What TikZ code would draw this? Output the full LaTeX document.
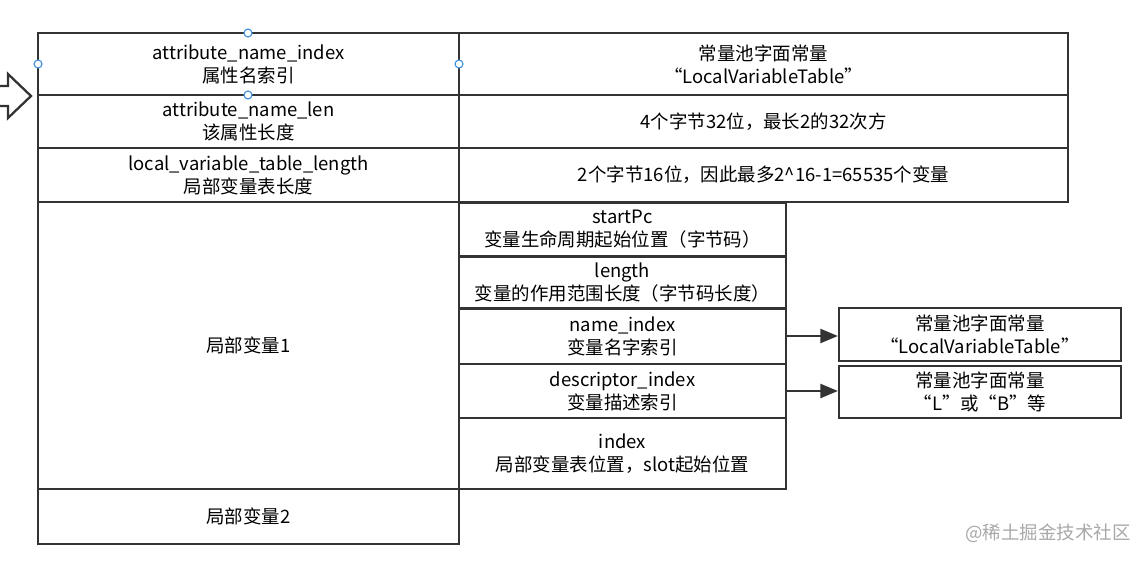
\documentclass[tikz,border=0pt]{standalone}
\usepackage{fontspec}
\setmainfont{Noto Sans CJK SC}
\usetikzlibrary{arrows.meta}
\definecolor{linegray}{HTML}{333333}
\definecolor{handleblue}{HTML}{3B8CE0}
\definecolor{markgray}{HTML}{A8A8A8}

\begin{document}
\begin{tikzpicture}[x=0.02cm,y=-0.02cm,
		cell/.style={draw=linegray,line width=1.3pt,align=center,inner sep=0pt,
			font=\fontsize{10.5}{13}\selectfont},
		handle/.style={draw=handleblue,fill=white,line width=0.6pt}]
				\useasboundingbox (0,0) rectangle (1147,561);
				% left column
				\node[cell,minimum width=8.42cm,minimum height=1.24cm] (nameidx) at (248.5,64) {attribute\_name\_index\\属性名索引};
				\node[cell,minimum width=8.42cm,minimum height=1.06cm] (namelen) at (248.5,121.5) {attribute\_name\_len\\该属性长度};
				\node[cell,minimum width=8.42cm,minimum height=1.08cm] (tablelen) at (248.5,175) {local\_variable\_table\_length\\局部变量表长度};
				\node[cell,minimum width=8.42cm,minimum height=5.74cm] (var1) at (248.5,345.5) {局部变量1};
				\node[cell,minimum width=8.42cm,minimum height=1.10cm] (var2) at (248.5,516.5) {局部变量2};
				% right column
				\node[cell,minimum width=12.18cm,minimum height=1.24cm] (pool) at (763.5,64) {常量池字面常量\\“LocalVariableTable”};
				\node[cell,minimum width=12.18cm,minimum height=1.06cm] (lenbits) at (763.5,121.5) {4个字节32位，最长2的32次方};
				\node[cell,minimum width=12.18cm,minimum height=1.08cm] (countbits) at (763.5,175) {2个字节16位，因此最多2\^{}16-1=65535个变量};
				% fields of one variable
				\node[cell,minimum width=6.54cm,minimum height=1.08cm] (startpc) at (622.5,229.5) {startPc\\变量生命周期起始位置（字节码）};
				\node[cell,minimum width=6.54cm,minimum height=1.06cm] (length) at (622.5,282.5) {length\\变量的作用范围长度（字节码长度）};
				\node[cell,minimum width=6.54cm,minimum height=1.12cm] (varname) at (622.5,336) {name\_index\\变量名字索引};
				\node[cell,minimum width=6.54cm,minimum height=1.08cm] (descidx) at (622.5,391) {descriptor\_index\\变量描述索引};
				\node[cell,minimum width=6.54cm,minimum height=1.42cm] (slot) at (622.5,453.5) {index\\局部变量表位置，slot起始位置};
				% constant pool entries
				\node[cell,minimum width=5.64cm,minimum height=1.06cm] (poolname) at (980,334.5) {常量池字面常量\\“LocalVariableTable”};
				\node[cell,minimum width=5.64cm,minimum height=1.04cm] (pooldesc) at (980,392) {常量池字面常量\\“L”或“B”等};
				\draw[linegray,line width=1.3pt,-{Triangle[length=10pt,width=8pt]}] (varname.east) -- (varname.east -| poolname.west);
				\draw[linegray,line width=1.3pt,-{Triangle[length=10pt,width=8pt]}] (descidx.east) -- (descidx.east -| pooldesc.west);
				% hollow arrow
				\draw[linegray,line width=1.3pt,line join=miter] (-2,86) -- (8,86) -- (8,74) -- (31,96) -- (8,118) -- (8,106) -- (-2,106);
				% selection handles
				\foreach \hx/\hy in {248/33,38/64,459/64,248/95}
					\draw[handle] (\hx,\hy) circle (0.08cm);
				\node[text=markgray,font=\fontsize{10.5}{13}\selectfont] (mark) at (1048,533) {@稀土掘金技术社区};
			\end{tikzpicture}
\end{document}
